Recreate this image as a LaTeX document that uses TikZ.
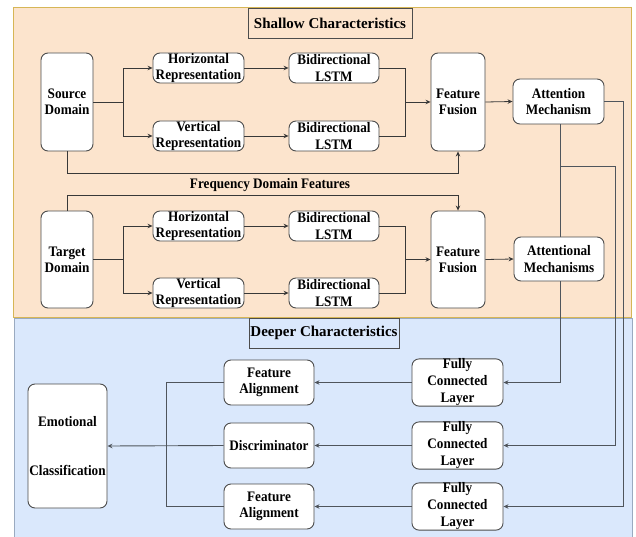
\documentclass[tikz,border=0pt]{standalone}
\usepackage{fontspec}
\setmainfont{Liberation Serif}[FakeStretch=0.91]
\newfontfamily\titlefont{Liberation Serif}
\usetikzlibrary{arrows.meta}
\definecolor{orfill}{HTML}{FCE4CD}
\definecolor{orline}{HTML}{D6B656}
\definecolor{blfill}{HTML}{DAE8FC}
\definecolor{blline}{HTML}{9AAAC0}
\definecolor{ln}{HTML}{383838}
\definecolor{lnb}{HTML}{4F555C}
\tikzset{
  box/.style={draw=ln!90, line width=0.9pt, fill=white, rounded corners=7pt, inner sep=0pt, align=center,
    font=\fontsize{14.5}{16.3}\selectfont\bfseries},
  title/.style={draw=ln!90, line width=0.9pt, inner sep=0pt, align=center,
    font=\titlefont\fontsize{15}{18}\selectfont\bfseries},
  conn/.style={draw=ln, line width=0.8pt},
  arr/.style={conn, -{Stealth[length=5pt,width=4.5pt]}},
  connb/.style={draw=lnb, line width=0.9pt},
  arrb/.style={connb, -{Stealth[length=5pt,width=4.5pt]}},
}
\begin{document}
\begin{tikzpicture}[x=1pt,y=-1pt]
\useasboundingbox (0,0) rectangle (636,537);
\fill[white] (0,0) rectangle (636,537);
% regions
\filldraw[fill=orfill, draw=orline, line width=1pt] (13,8) rectangle (631,317);
\begin{scope}
\clip (0,0) rectangle (636,537);
\filldraw[fill=blfill, draw=blline, line width=1pt] (14,318) rectangle (632,545);
\end{scope}
% titles
\node[title, minimum width=164pt, minimum height=30pt] (shallow) at (330,23) {Shallow Characteristics};
\node[title, minimum width=150pt, minimum height=30pt] (deeper) at (324,333) {Deeper Characteristics};
% top row
\node[box, minimum width=52pt, minimum height=98pt] (src) at (67,102) {Source\\Domain};
\node[box, minimum width=91pt, minimum height=30pt] (h1) at (198.5,68) {Horizontal\\Representation};
\node[box, minimum width=91pt, minimum height=30pt] (v1) at (198.5,136) {Vertical\\Representation};
\node[box, minimum width=90pt, minimum height=30pt] (l1) at (334,68) {Bidirectional\\LSTM};
\node[box, minimum width=90pt, minimum height=30pt] (l2) at (334,136) {Bidirectional\\LSTM};
\node[box, minimum width=54pt, minimum height=98pt] (ff1) at (458,102) {Feature\\Fusion};
\node[box, minimum width=91pt, minimum height=45pt] (att1) at (558.5,101.5) {Attention\\Mechanism};
% second row
\node[box, minimum width=52pt, minimum height=97pt] (tgt) at (67,259.5) {Target\\Domain};
\node[box, minimum width=91pt, minimum height=30pt] (h2) at (198.5,226) {Horizontal\\Representation};
\node[box, minimum width=91pt, minimum height=30pt] (v2) at (198.5,293) {Vertical\\Representation};
\node[box, minimum width=90pt, minimum height=30pt] (l3) at (334,226) {Bidirectional\\LSTM};
\node[box, minimum width=90pt, minimum height=30pt] (l4) at (334,293) {Bidirectional\\LSTM};
\node[box, minimum width=54pt, minimum height=97pt] (ff2) at (458,259.5) {Feature\\Fusion};
\node[box, minimum width=90pt, minimum height=44pt] (att2) at (559,259) {Attentional\\Mechanisms};
\node[font=\fontsize{14.5}{16}\selectfont\bfseries, inner sep=0pt] (freq) at (270,185) {Frequency Domain Features};
% deeper
\node[box, minimum width=91pt, minimum height=45pt, font=\fontsize{14.5}{17}\selectfont\bfseries] (fc1) at (457.5,382.5) {Fully\\Connected\\Layer};
\node[box, minimum width=91pt, minimum height=45pt, font=\fontsize{14.5}{17}\selectfont\bfseries] (fc2) at (457.5,445.5) {Fully\\Connected\\Layer};
\node[box, minimum width=91pt, minimum height=45pt, font=\fontsize{14.5}{17}\selectfont\bfseries] (fc3) at (457.5,506.5) {Fully\\Connected\\Layer};
\node[box, minimum width=90pt, minimum height=45pt] (fa1) at (269,382.5) {Feature\\Alignment};
\node[box, minimum width=90pt, minimum height=45pt] (disc) at (269,445.5) {Discriminator};
\node[box, minimum width=90pt, minimum height=45pt] (fa2) at (269,506.5) {Feature\\Alignment};
\node[box, minimum width=79pt, minimum height=124pt] (emo) at (67.5,446) {Emotional\\[33pt]Classification};
% coordinates
\coordinate (s1) at (123,102);
\coordinate (s2) at (123,259.5);
\coordinate (m1) at (405,102);
\coordinate (m2) at (405,259.5);
\coordinate (j1) at (560,166);
\coordinate (b1) at (166,382.5);
% top connectors
\draw[conn] (src.east) -- (s1);
\draw[arr] (s1) |- (h1.west);
\draw[arr] (s1) |- (v1.west);
\draw[arr] (h1) -- (l1);
\draw[arr] (v1) -- (l2);
\draw[conn] (l1.east) -| (m1);
\draw[conn] (l2.east) -| (m1);
\draw[arr] (m1) -- (ff1.west);
\draw[arr] (src.south) -- ++(0,22) -| (ff1.south);
\draw[arr] (ff1.east) -- (att1.west);
% second row connectors
\draw[conn] (tgt.east) -- (s2);
\draw[arr] (s2) |- (h2.west);
\draw[arr] (s2) |- (v2.west);
\draw[arr] (h2) -- (l3);
\draw[arr] (v2) -- (l4);
\draw[conn] (l3.east) -| (m2);
\draw[conn] (l4.east) -| (m2);
\draw[arr] (m2) -- (ff2.west);
\draw[arr] (tgt.north) -- ++(0,-15) -| (ff2.north);
\draw[arr] (ff2.east) -- (att2.west);
% right side connectors
\draw[connb] (att1.south -| j1) -- (att2.north -| j1);
\draw[arrb] (att1.east) -- (623,101.5) |- (fc3.east);
\draw[arrb] (j1) -- (615,166) |- (fc2.east);
\draw[arrb] (att2.south -| j1) |- (fc1.east);
% deeper connectors
\draw[arrb] (fc1.west) -- (fa1.east);
\draw[arrb] (fc2.west) -- (disc.east);
\draw[arrb] (fc3.west) -- (fa2.east);
\draw[connb] (fa1.west) -- (b1) |- (fa2.west);
\draw[arrb] (disc.west) -- (emo.east);
\end{tikzpicture}
\end{document}
